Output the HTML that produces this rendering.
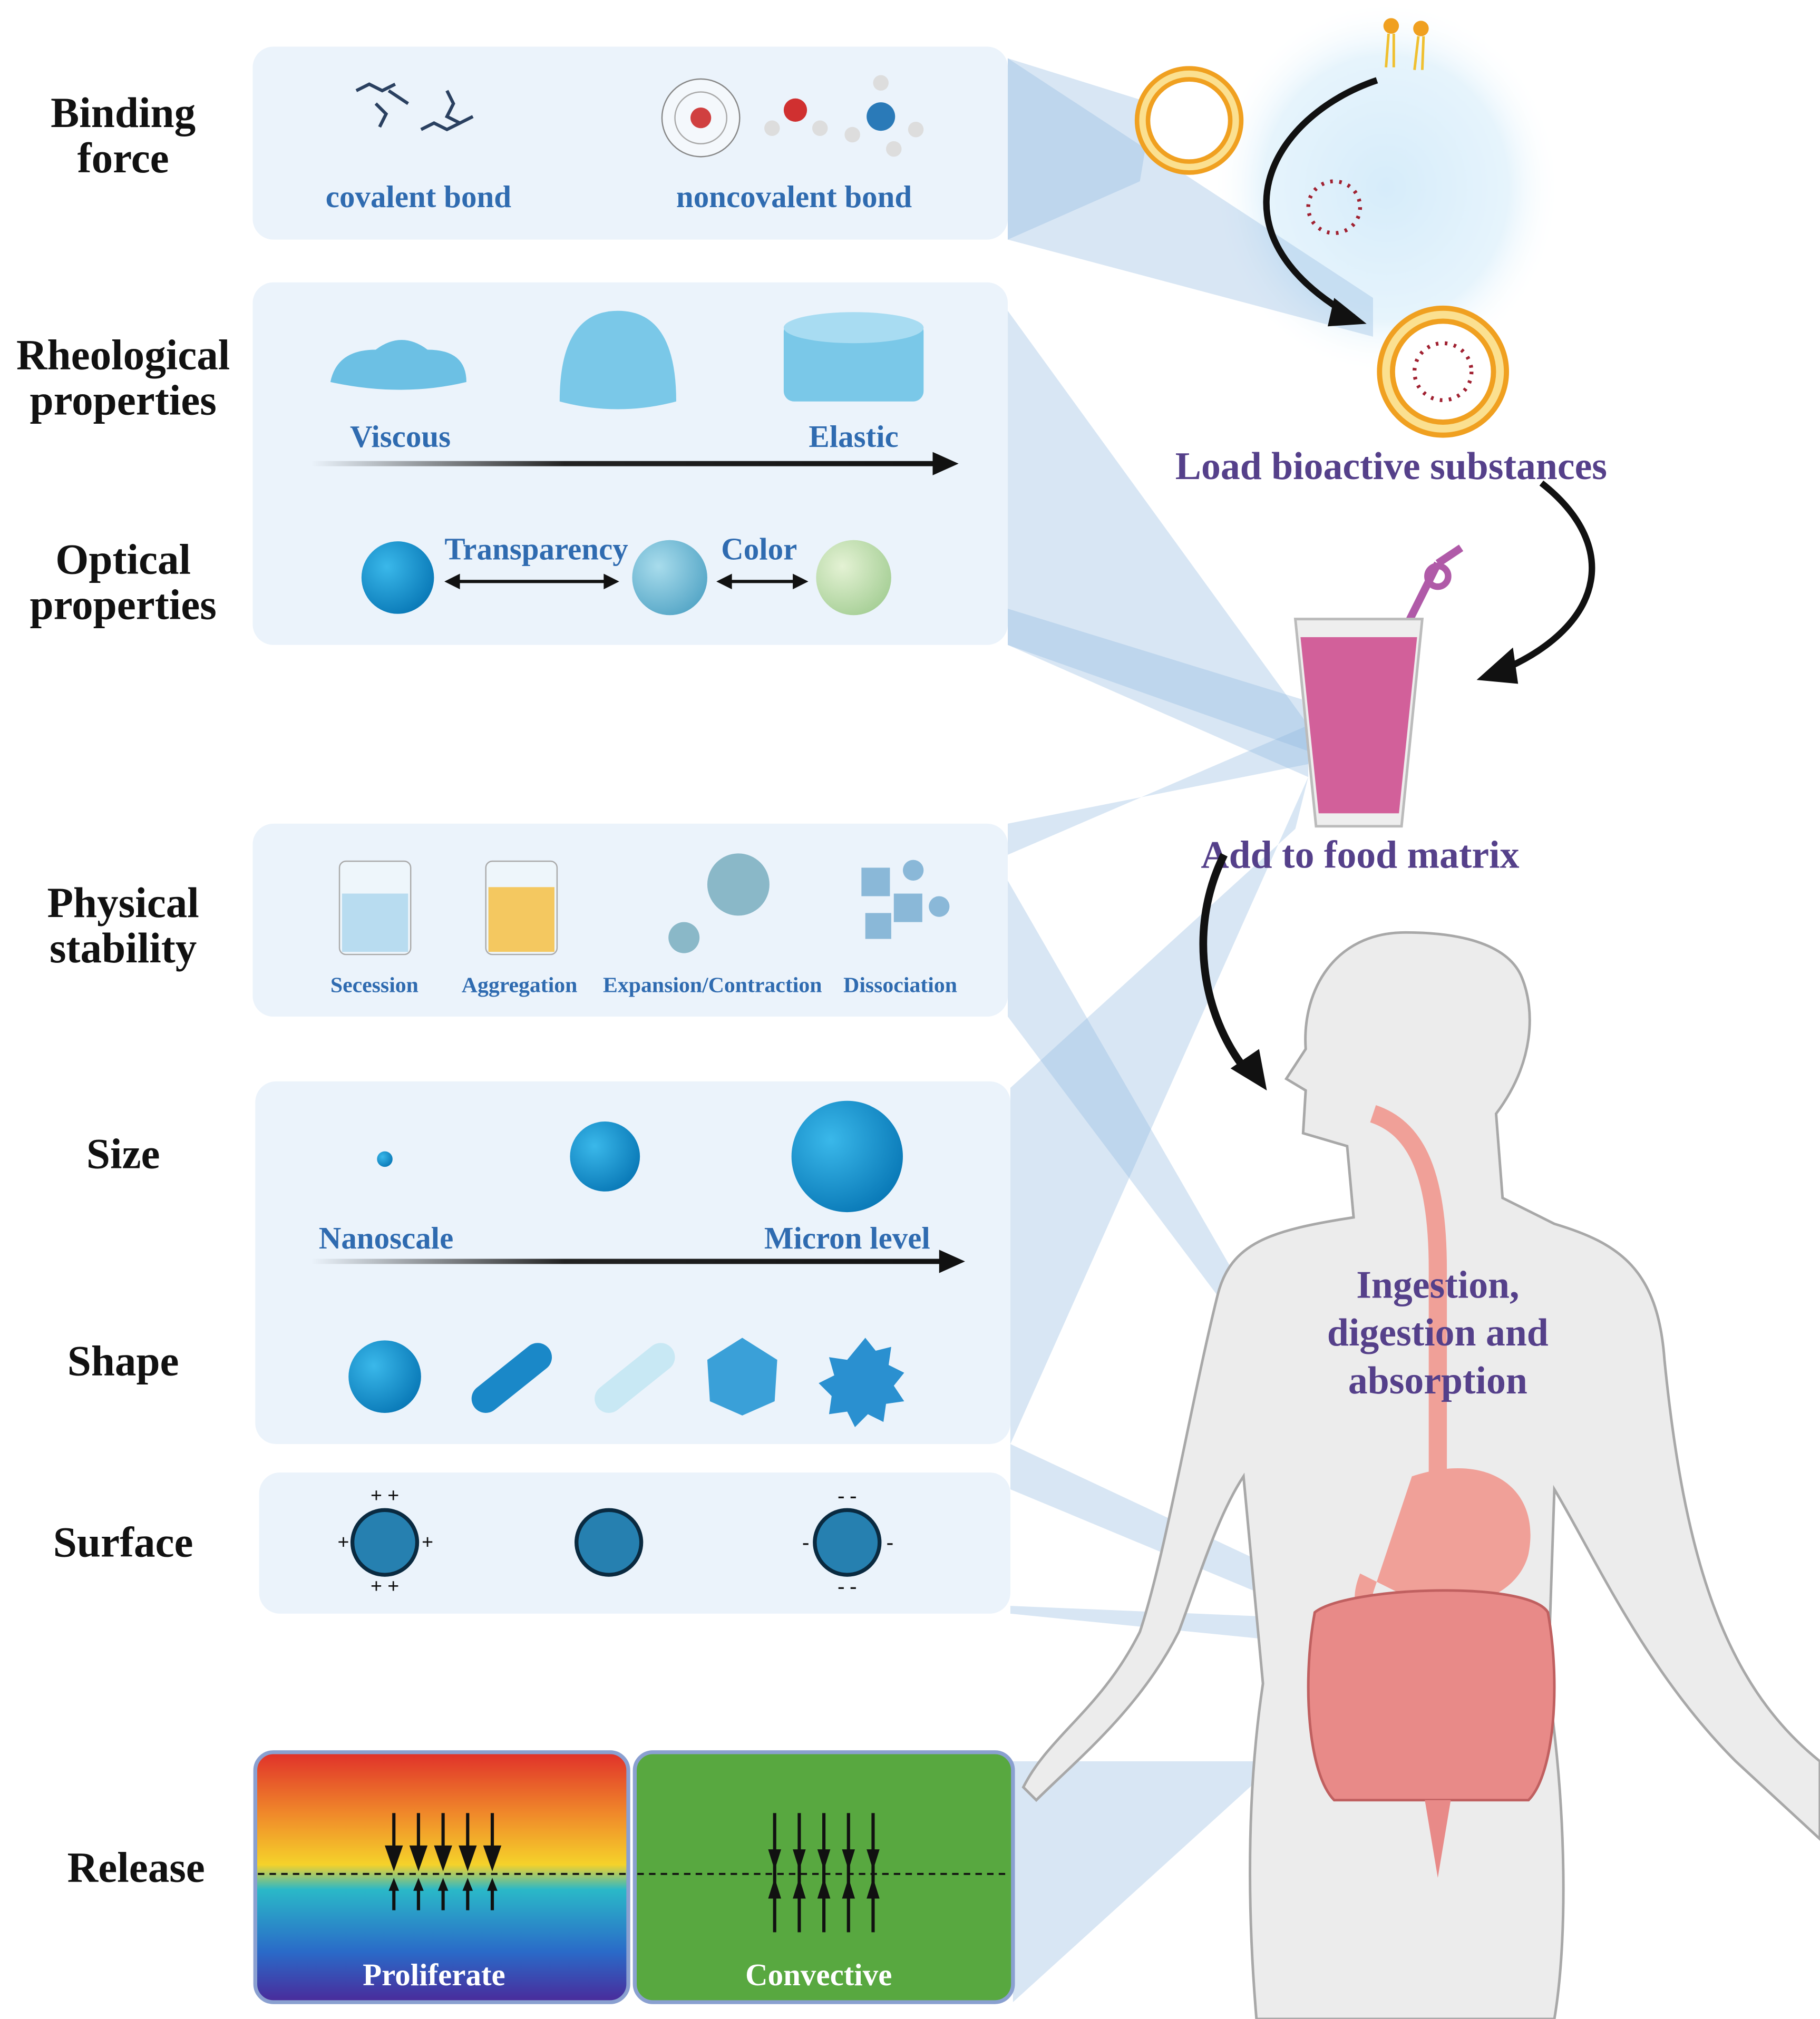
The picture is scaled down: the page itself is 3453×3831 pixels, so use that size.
<!DOCTYPE html>
<html><head><meta charset="utf-8"><style>
html,body{margin:0;padding:0;background:#fff}
svg{display:block}
text{font-family:"Liberation Serif",serif;font-weight:bold}
</style></head><body>
<svg width="3453" height="3831" viewBox="0 0 1405 1559" xmlns="http://www.w3.org/2000/svg">
<defs>
<radialGradient id="glow" cx="0.5" cy="0.5" r="0.5"><stop offset="0" stop-color="#d6ecfa"/><stop offset="0.7" stop-color="#e6f4fc"/><stop offset="1" stop-color="#fff" stop-opacity="0"/></radialGradient>
<linearGradient id="arr1" gradientUnits="userSpaceOnUse" x1="240" y1="0" x2="730" y2="0"><stop offset="0" stop-color="#222" stop-opacity="0"/><stop offset="0.4" stop-color="#222"/><stop offset="1" stop-color="#111"/></linearGradient>
<linearGradient id="rain" x1="0" y1="0" x2="0" y2="1"><stop offset="0" stop-color="#e0302a"/><stop offset="0.25" stop-color="#f08a2a"/><stop offset="0.45" stop-color="#f5d22a"/><stop offset="0.55" stop-color="#2ab8c8"/><stop offset="0.8" stop-color="#2a6ac8"/><stop offset="1" stop-color="#4a2a9a"/></linearGradient>
<radialGradient id="ball" cx="0.35" cy="0.35" r="0.7"><stop offset="0" stop-color="#3ab8ea"/><stop offset="1" stop-color="#0a7ab8"/></radialGradient>
<radialGradient id="ball2" cx="0.35" cy="0.35" r="0.7"><stop offset="0" stop-color="#a8dcec"/><stop offset="1" stop-color="#58a8c8"/></radialGradient>
<radialGradient id="ball3" cx="0.35" cy="0.35" r="0.7"><stop offset="0" stop-color="#e4f2d4"/><stop offset="1" stop-color="#a8d098"/></radialGradient>
</defs>
<ellipse cx="1070" cy="145" rx="135" ry="145" fill="url(#glow)"/>
<g fill="#8fb8e0" fill-opacity="0.35">
<polygon points="778,45 778,185 880,140 890,80"/>
<polygon points="778,45 778,185 1060,260 1060,230"/>
<polygon points="778,240 778,498 1010,600 1010,560"/>
<polygon points="778,498 778,470 1005,540 1010,580"/>
<polygon points="778,636 778,660 1010,560 1010,590"/>
<polygon points="778,680 778,785 1090,1200 1095,1230"/>
<polygon points="780,840 780,1115 1010,600 1000,640"/>
<polygon points="780,1115 780,1150 1020,1250 1025,1230"/>
<polygon points="780,1240 780,1246 1020,1270 1020,1250"/>
<polygon points="782,1360 782,1546 1020,1330 1010,1360"/>
</g>
<g fill="#ebf3fb">
<rect x="195" y="36" width="583" height="149" rx="16"/>
<rect x="195" y="218" width="583" height="280" rx="16"/>
<rect x="195" y="636" width="583" height="149" rx="16"/>
<rect x="197" y="835" width="583" height="280" rx="16"/>
<rect x="200" y="1137" width="580" height="109" rx="16"/>
</g>
<g font-size="33" fill="#111" text-anchor="middle">
<text x="95" y="98">Binding</text><text x="95" y="133">force</text>
<text x="95" y="285">Rheological</text><text x="95" y="320">properties</text>
<text x="95" y="443">Optical</text><text x="95" y="478">properties</text>
<text x="95" y="708">Physical</text><text x="95" y="743">stability</text>
<text x="95" y="902">Size</text>
<text x="95" y="1062">Shape</text>
<text x="95" y="1202">Surface</text>
<text x="105" y="1453">Release</text>
</g>
<g fill="#2f6bb0" text-anchor="middle">
<text x="323" y="160" font-size="24">covalent bond</text>
<text x="613" y="160" font-size="24">noncovalent bond</text>
<text x="309" y="345" font-size="24">Viscous</text>
<text x="659" y="345" font-size="24">Elastic</text>
<text x="414" y="432" font-size="24">Transparency</text>
<text x="586" y="432" font-size="24">Color</text>
<text x="289" y="766" font-size="17">Secession</text>
<text x="401" y="766" font-size="17">Aggregation</text>
<text x="550" y="766" font-size="17">Expansion/Contraction</text>
<text x="695" y="766" font-size="17">Dissociation</text>
<text x="298" y="964" font-size="24">Nanoscale</text>
<text x="654" y="964" font-size="24">Micron level</text>
</g>
<g stroke="#2a4060" stroke-width="2.5" fill="none">
<path d="M275,70 l10,-5 l10,5 l10,-5 M290,80 l8,8 l-5,10 M325,100 l10,-5 l10,5 l10,-5 M345,70 l5,10 l-5,10 l10,5 l10,-5 M300,70 l15,10"/>
</g>
<circle cx="541" cy="91" r="30" fill="#f4f8fc" stroke="#888"/><circle cx="541" cy="91" r="20" fill="none" stroke="#aaa"/>
<circle cx="541" cy="91" r="8" fill="#d04040"/>
<circle cx="614" cy="85" r="9" fill="#d03030"/><circle cx="596" cy="99" r="6" fill="#ddd"/><circle cx="633" cy="99" r="6" fill="#ddd"/>
<circle cx="680" cy="90" r="11" fill="#2a7ab8"/><circle cx="680" cy="64" r="6" fill="#ddd"/><circle cx="658" cy="104" r="6" fill="#ddd"/><circle cx="707" cy="100" r="6" fill="#ddd"/><circle cx="690" cy="115" r="6" fill="#ddd"/>
<path d="M255,295 q5,-25 35,-25 q20,-15 40,0 q30,0 30,25 q-50,12 -105,0z" fill="#6cc0e4"/>
<path d="M432,310 q0,-70 45,-70 q45,0 45,70 q-45,12 -90,0z" fill="#7ac8e8"/>
<rect x="605" y="248" width="108" height="62" rx="8" fill="#7ac8e8"/><ellipse cx="659" cy="253" rx="54" ry="12" fill="#a8dcf2"/>
<rect x="240" y="356" width="485" height="4" fill="url(#arr1)"/><polygon points="740,358 720,349 720,367" fill="#111"/>
<rect x="240" y="972" width="490" height="4" fill="url(#arr1)"/><polygon points="745,974 725,965 725,983" fill="#111"/>
<circle cx="307" cy="446" r="28" fill="url(#ball)"/><circle cx="517" cy="446" r="29" fill="url(#ball2)"/><circle cx="659" cy="446" r="29" fill="url(#ball3)"/>
<g stroke="#111" stroke-width="2.5"><line x1="350" y1="449" x2="472" y2="449"/><line x1="560" y1="449" x2="620" y2="449"/></g>
<g fill="#111"><polygon points="343,449 355,443 355,455"/><polygon points="478,449 466,443 466,455"/><polygon points="553,449 565,443 565,455"/><polygon points="624,449 612,443 612,455"/></g>
<rect x="262" y="665" width="55" height="72" rx="5" fill="#eef6fb" stroke="#aaa"/><rect x="264" y="690" width="51" height="45" fill="#b8dcf0"/>
<rect x="375" y="665" width="55" height="72" rx="5" fill="#eef6fb" stroke="#aaa"/><rect x="377" y="685" width="51" height="50" fill="#f4c860"/>
<circle cx="570" cy="683" r="24" fill="#8ab8c8"/><circle cx="528" cy="724" r="12" fill="#8ab8c8"/>
<g fill="#8ab8d8"><rect x="665" y="670" width="22" height="22"/><rect x="690" y="690" width="22" height="22"/><rect x="668" y="705" width="20" height="20"/><circle cx="705" cy="672" r="8"/><circle cx="725" cy="700" r="8"/></g>
<circle cx="297" cy="895" r="6" fill="url(#ball)"/><circle cx="467" cy="893" r="27" fill="url(#ball)"/><circle cx="654" cy="893" r="43" fill="url(#ball)"/>
<circle cx="297" cy="1063" r="28" fill="url(#ball)"/>
<line x1="375" y1="1080" x2="415" y2="1048" stroke="#1a88c8" stroke-width="22" stroke-linecap="round"/>
<line x1="470" y1="1080" x2="510" y2="1048" stroke="#c8e8f4" stroke-width="22" stroke-linecap="round"/>
<polygon points="573,1033 600,1050 598,1082 573,1093 548,1082 546,1050" fill="#3aa0d8"/>
<path d="M668,1033 l8,10 12,-3 -2,14 12,6 -8,10 8,12 -14,2 -2,14 -12,-6 -10,10 -6,-12 -14,2 2,-14 -10,-10 12,-6 -4,-14 14,2z" fill="#2a90d0"/>
<g fill="#2680b0" stroke="#0a2a40" stroke-width="3"><circle cx="297" cy="1191" r="25"/><circle cx="470" cy="1191" r="25"/><circle cx="654" cy="1191" r="25"/></g>
<g font-size="16" fill="#111" text-anchor="middle"><text x="297" y="1160">+ +</text><text x="297" y="1230">+ +</text><text x="265" y="1196">+</text><text x="330" y="1196">+</text><text x="654" y="1160">- -</text><text x="654" y="1230">- -</text><text x="622" y="1196">-</text><text x="687" y="1196">-</text></g>
<rect x="197" y="1353" width="288" height="193" rx="14" fill="url(#rain)" stroke="#8aa0d0" stroke-width="3"/>
<rect x="490" y="1353" width="292" height="193" rx="14" fill="#58a840" stroke="#8aa0d0" stroke-width="3"/>
<g stroke="#111" stroke-width="1.5" stroke-dasharray="5,4"><line x1="199" y1="1447" x2="483" y2="1447"/><line x1="492" y1="1447" x2="780" y2="1447"/></g>
<g stroke="#111" stroke-width="2.5">
<line x1="304" y1="1400" x2="304" y2="1430"/><line x1="323" y1="1400" x2="323" y2="1430"/><line x1="342" y1="1400" x2="342" y2="1430"/><line x1="361" y1="1400" x2="361" y2="1430"/><line x1="380" y1="1400" x2="380" y2="1430"/>
<line x1="304" y1="1455" x2="304" y2="1475"/><line x1="323" y1="1455" x2="323" y2="1475"/><line x1="342" y1="1455" x2="342" y2="1475"/><line x1="361" y1="1455" x2="361" y2="1475"/><line x1="380" y1="1455" x2="380" y2="1475"/>
<line x1="598" y1="1400" x2="598" y2="1492"/><line x1="617" y1="1400" x2="617" y2="1492"/><line x1="636" y1="1400" x2="636" y2="1492"/><line x1="655" y1="1400" x2="655" y2="1492"/><line x1="674" y1="1400" x2="674" y2="1492"/>
</g>
<g fill="#111">
<polygon points="297,1425 311,1425 304,1445"/><polygon points="316,1425 330,1425 323,1445"/><polygon points="335,1425 349,1425 342,1445"/><polygon points="354,1425 368,1425 361,1445"/><polygon points="373,1425 387,1425 380,1445"/>
<polygon points="300,1460 308,1460 304,1450"/><polygon points="319,1460 327,1460 323,1450"/><polygon points="338,1460 346,1460 342,1450"/><polygon points="357,1460 365,1460 361,1450"/><polygon points="376,1460 384,1460 380,1450"/>
<polygon points="593,1428 603,1428 598,1444"/><polygon points="612,1428 622,1428 617,1444"/><polygon points="631,1428 641,1428 636,1444"/><polygon points="650,1428 660,1428 655,1444"/><polygon points="669,1428 679,1428 674,1444"/>
<polygon points="593,1466 603,1466 598,1450"/><polygon points="612,1466 622,1466 617,1450"/><polygon points="631,1466 641,1466 636,1450"/><polygon points="650,1466 660,1466 655,1450"/><polygon points="669,1466 679,1466 674,1450"/>
</g>
<text x="335" y="1533" font-size="24" fill="#fff" text-anchor="middle">Proliferate</text>
<text x="632" y="1533" font-size="24" fill="#fff" text-anchor="middle">Convective</text>
<circle cx="918" cy="93" r="36" fill="none" stroke="#f0a020" stroke-width="12"/><circle cx="918" cy="93" r="36" fill="none" stroke="#fbe090" stroke-width="5"/>
<circle cx="1114" cy="287" r="44" fill="#fff" stroke="#f0a020" stroke-width="14"/><circle cx="1114" cy="287" r="44" fill="none" stroke="#fbe090" stroke-width="6"/>
<circle cx="1030" cy="160" r="20" fill="none" stroke="#a02030" stroke-width="3" stroke-dasharray="2,5"/>
<circle cx="1114" cy="287" r="22" fill="none" stroke="#a02030" stroke-width="3" stroke-dasharray="2,5"/>
<circle cx="1074" cy="20" r="6" fill="#f0a020"/><circle cx="1097" cy="22" r="6" fill="#f0a020"/>
<g stroke="#f0c030" stroke-width="2"><line x1="1072" y1="26" x2="1070" y2="52"/><line x1="1076" y1="26" x2="1076" y2="52"/><line x1="1095" y1="28" x2="1092" y2="54"/><line x1="1099" y1="28" x2="1098" y2="54"/></g>
<path d="M1063,62 C980,90 930,180 1045,245" fill="none" stroke="#111" stroke-width="5"/><polygon points="1055,250 1030,230 1025,252" fill="#111"/>
<text x="1074" y="370" font-size="30" fill="#55408a" text-anchor="middle">Load bioactive substances</text>
<path d="M1190,373 C1250,420 1240,480 1165,515" fill="none" stroke="#111" stroke-width="5"/><polygon points="1140,525 1168,500 1172,528" fill="#111"/>
<path d="M1085,485 L1110,435 M1110,435 l18,-12" stroke="#b05aa8" stroke-width="6" fill="none"/>
<circle cx="1110" cy="445" r="8" fill="none" stroke="#b05aa8" stroke-width="5"/>
<polygon points="1000,478 1098,478 1082,638 1016,638" fill="#eee" stroke="#bbb" stroke-width="2"/>
<polygon points="1004,492 1094,492 1080,628 1018,628" fill="#d2609a"/>
<text x="1050" y="670" font-size="30" fill="#55408a" text-anchor="middle">Add to food matrix</text>
<path d="M945,660 C915,720 930,790 965,830" fill="none" stroke="#111" stroke-width="6"/><polygon points="978,842 950,825 972,810" fill="#111"/>
<path d="M1085,720 C1030,720 1005,765 1008,810 L993,833 L1008,842 L1006,875 L1040,885 L1045,940 C980,950 950,960 940,1000 C920,1080 900,1200 880,1260 C850,1320 810,1340 790,1380 L800,1390 C830,1360 880,1320 910,1260 C925,1220 940,1170 960,1140 L975,1300 C960,1400 965,1500 970,1559 L1200,1559 C1210,1500 1210,1400 1195,1300 L1200,1150 C1230,1200 1270,1290 1340,1360 L1405,1420 L1405,1360 C1330,1300 1300,1200 1285,1050 C1280,980 1250,960 1200,945 L1160,925 L1155,860 C1185,820 1185,780 1175,755 C1165,730 1130,720 1085,720z" fill="#ececec" stroke="#a8a8a8" stroke-width="2"/>
<path d="M1060,860 C1090,870 1110,900 1110,980 L1110,1140" stroke="#f0a098" stroke-width="14" fill="none"/>
<path d="M1090,1140 C1150,1120 1190,1150 1180,1200 C1170,1240 1110,1250 1080,1230 L1050,1215 C1040,1240 1050,1250 1060,1250 L1060,1230" fill="#f0a098"/>
<path d="M1015,1245 C1040,1225 1180,1220 1195,1245 C1205,1300 1200,1370 1180,1390 L1030,1390 C1010,1370 1005,1300 1015,1245z" fill="#e88a88" stroke="#c06060" stroke-width="2"/>
<path d="M1100,1390 L1110,1450 L1120,1390z" fill="#e88a88"/>
<g fill="#55408a" font-size="30" text-anchor="middle"><text x="1110" y="1002">Ingestion,</text><text x="1110" y="1039">digestion and</text><text x="1110" y="1076">absorption</text></g>
</svg>
</body></html>
